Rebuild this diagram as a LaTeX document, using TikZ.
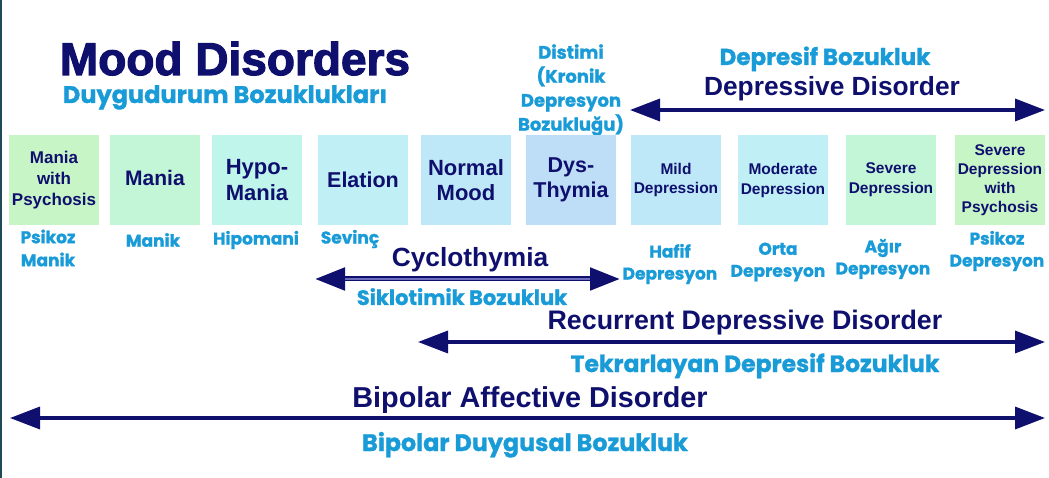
\documentclass[tikz,border=0pt]{standalone}
\usepackage{fontspec}
\setmainfont{Liberation Sans}
\newfontfamily\trfont{Poppins}[BoldFeatures={FakeBold=1.2}]
\newfontfamily\titlefont{Liberation Sans}[BoldFeatures={FakeBold=2.5}]
\usetikzlibrary{positioning,arrows.meta}
\definecolor{mdNavy}{RGB}{15,15,110}
\definecolor{mdCyan}{RGB}{25,155,215}
\definecolor{mdInner}{RGB}{110,110,190}
\definecolor{mdEdge}{RGB}{30,75,85}
\definecolor{mdGreen}{RGB}{200,245,198}
\definecolor{mdMint}{RGB}{195,245,215}
\definecolor{mdAqua}{RGB}{192,245,235}
\definecolor{mdCyanBox}{RGB}{192,240,246}
\definecolor{mdSky}{RGB}{190,232,248}
\definecolor{mdBlue}{RGB}{190,222,248}
\tikzset{
    base/.style={align=center, inner sep=0pt},
    mood/.style n args={2}{base, minimum width=90pt, minimum height=90pt,
                 text=mdNavy, font=\bfseries\fontsize{#1}{#2}\selectfont},
    engl/.style={base, text=mdNavy, font=\bfseries\fontsize{#1}{30}\selectfont},
    engl/.default=26.3,
    turk/.style n args={2}{base, text=mdCyan, font=\trfont\bfseries\fontsize{#1}{#2}\selectfont},
    span/.style={{Triangle[length=30pt,width=22pt]}-{Triangle[length=30pt,width=22pt]},
                 line width=3.5pt, color=mdNavy}
}
\begin{document}
\begin{tikzpicture}[x=1pt, y=-1pt]
  \useasboundingbox (0,0) rectangle (1049,478);
  \fill[mdEdge] (0,0) rectangle (2,478);

  % titles
  \node[base, anchor=base, text=mdNavy, font=\titlefont\bfseries\fontsize{46}{50}\selectfont] (title) at (235,75) {Mood Disorders};
  \node[turk={24}{28}, anchor=base] (titleTr) at (225,103) {Duygudurum Bozuklukları};
  \node[turk={18}{24}] (distimi) at (571,90) {Distimi\\(Kronik\\Depresyon\\Bozukluğu)};
  \node[turk={23}{28}, anchor=base] (depTr) at (825,65) {Depresif Bozukluk};
  \node[engl, anchor=base] (dep) at (832,96) {Depressive Disorder};

  % mood spectrum
  \node[mood={17}{21}, fill=mdGreen] (maniaPsy) at (54,180) {Mania\\with\\Psychosis};
  \node[mood={21}{24}, fill=mdMint] (mania) at (155,180) {\raisebox{4pt}{Mania}};
  \node[mood={22}{26}, fill=mdAqua] (hypo) at (257,180) {Hypo-\\Mania};
  \node[mood={21.5}{24}, fill=mdCyanBox] (elation) at (363,180) {Elation};
  \node[mood={22}{25}, fill=mdSky] (normal) at (466,180) {Normal\\Mood};
  \node[mood={21.5}{25}, fill=mdBlue] (dysthymia) at (571,180) {Dys-\\Thymia};
  \node[mood={15.5}{19}, fill=mdSky] (mild) at (676,180) {Mild\\Depression};
  \node[mood={15.5}{20}, fill=mdCyanBox] (moderate) at (783,180) {Moderate\\Depression};
  \node[mood={15.5}{20}, fill=mdMint] (severe) at (891,180) {Severe\\Depression};
  \node[mood={15.5}{19}, fill=mdGreen] (severePsy) at (1000,180) {Severe\\Depression\\with\\Psychosis};

  % Turkish names below the boxes
  \node[turk={17}{23}] (maniaPsyTr) at (48,248) {Psikoz\\Manik};
  \node[turk={17}{23}] (maniaTr) at (153,240) {Manik};
  \node[turk={17}{23}] (hypoTr) at (256,240) {Hipomani};
  \node[turk={17}{23}] (elationTr) at (350,239) {Sevinç};
  \node[turk={17}{22}] (mildTr) at (670,264) {Hafif\\Depresyon};
  \node[turk={17}{22}] (moderateTr) at (778,262) {Orta\\Depresyon};
  \node[turk={17}{22}] (severeTr) at (883,259) {Ağır\\Depresyon};
  \node[turk={17}{22}] (severePsyTr) at (997,251) {Psikoz\\Depresyon};

  % spans
  \node[engl, anchor=base] (cyclo) at (470,266) {Cyclothymia};
  \node[turk={21}{25}, anchor=base] (cycloTr) at (462,305) {Siklotimik Bozukluk};
  \node[engl=26.8, anchor=base] (recur) at (745,329) {Recurrent Depressive Disorder};
  \node[turk={23.5}{26}, anchor=base] (recurTr) at (755,372) {Tekrarlayan Depresif Bozukluk};
  \node[engl=28.8, anchor=base] (bipolar) at (530,407) {Bipolar Affective Disorder};
  \node[turk={23.8}{26}, anchor=base] (bipolarTr) at (525,451) {Bipolar Duygusal Bozukluk};

  \coordinate (depL) at (630,110);
  \coordinate (depR) at (1045,110);
  \coordinate (cycL) at (315,279);
  \coordinate (cycR) at (620,279);
  \coordinate (recL) at (418,342);
  \coordinate (recR) at (1045,342);
  \coordinate (bipL) at (10,418);
  \coordinate (bipR) at (1045,418);

  \draw[span] (depL) -- (depR);
  \draw[span, line width=5pt] (cycL) -- (cycR);
  \draw[mdInner, line width=1.2pt, shorten <=30pt, shorten >=30pt] (cycL) -- (cycR);
  \draw[span] (recL) -- (recR);
  \draw[span] (bipL) -- (bipR);
\end{tikzpicture}
\end{document}
